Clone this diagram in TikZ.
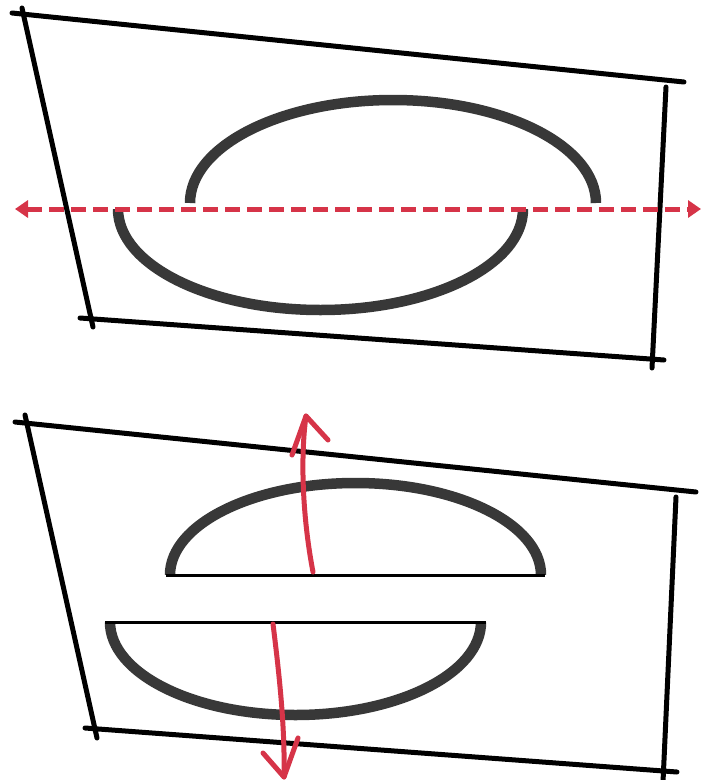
\documentclass[tikz,border=0pt]{standalone}
\usetikzlibrary{arrows.meta}
\definecolor{pinred}{RGB}{214,52,72}
\definecolor{lensgray}{RGB}{56,56,56}
\begin{document}
\begin{tikzpicture}[x=1pt,y=1pt,
  sketch/.style={black,line width=5pt,line cap=round},
  lens/.style={lensgray,line width=10.5pt},
  base/.style={black,line width=3pt},
  redpen/.style={pinred,line width=5pt,line cap=round,line join=round}]
\useasboundingbox[fill=white] (0,0) rectangle (714,-780);

% ---------- top panel ----------
\draw[sketch] (12,-13) -- (684,-82);
\draw[sketch] (22,-8) -- (93,-327);
\draw[sketch] (80,-318) -- (664,-360);
\draw[sketch] (666,-87) -- (652,-368);

\draw[lens] (190,-203) arc[start angle=180,end angle=0,x radius=203pt,y radius=103pt];
\draw[lens] (118,-209) arc[start angle=180,end angle=360,x radius=202.5pt,y radius=101pt];

\coordinate (L) at (15,-209);
\coordinate (R) at (701,-209);
\draw[pinred,line width=5pt,dash pattern=on 15pt off 7pt,
  {Triangle[length=13pt,width=17pt]}-{Triangle[length=13pt,width=17pt]}] (L) -- (R);

% ---------- bottom panel ----------
\draw[sketch] (15,-422) -- (696,-492);
\draw[sketch] (25,-415) -- (97,-738);
\draw[sketch] (85,-728) -- (677,-772);
\draw[sketch] (676,-497) -- (663,-782);

\draw[lens] (170,-575) arc[start angle=180,end angle=0,x radius=185.5pt,y radius=92pt];
\draw[base] (166,-575) -- (545,-575);
\draw[lens] (110,-622) arc[start angle=180,end angle=360,x radius=185.5pt,y radius=93pt];
\draw[base] (105,-622) -- (486,-622);

% red arrows
\coordinate (u0) at (313,-572);
\coordinate (u1) at (306,-416);
\draw[redpen] (u0) .. controls (303,-520) and (300,-460) .. (u1);
\draw[redpen] (292,-455) -- (u1) -- (328,-440);

\coordinate (d0) at (273,-624);
\coordinate (d1) at (284,-777);
\draw[redpen] (d0) .. controls (280,-680) and (285,-730) .. (d1);
\draw[redpen] (263,-753) -- (d1) -- (298,-738);
\end{tikzpicture}
\end{document}
